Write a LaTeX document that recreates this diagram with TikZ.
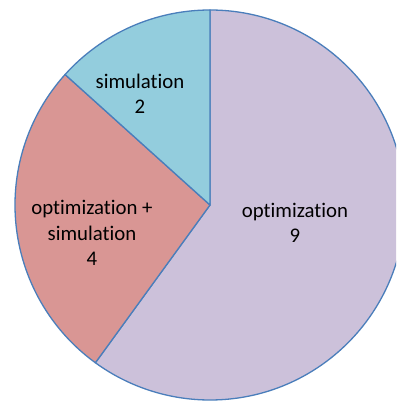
\documentclass[tikz,border=0pt]{standalone}
\usepackage{fontspec}
\setmainfont{Carlito}[Ligatures={NoCommon}]
\definecolor{optcol}{RGB}{204,193,218}
\definecolor{optsimcol}{RGB}{217,150,148}
\definecolor{simcol}{RGB}{147,205,221}
\definecolor{edgecol}{RGB}{74,126,187}
\tikzset{
  slice/.style={draw=edgecol, line width=1.3pt, line join=round},
  label/.style={align=center, font=\fontsize{20.8}{25.5}\selectfont, text=black, inner sep=0pt}
}
\begin{document}
\begin{tikzpicture}[x=1pt,y=1pt]
\useasboundingbox (0,0) rectangle (396,403);
\clip (0,0) rectangle (396,403);
\fill[white] (0,0) rectangle (396,403);
\coordinate (c) at (210,198);
\filldraw[slice, fill=optcol] (c) -- ++(90:195) arc[start angle=90, end angle=-126, radius=195] -- cycle;
\filldraw[slice, fill=optsimcol] (c) -- ++(-126:195) arc[start angle=-126, end angle=-222, radius=195] -- cycle;
\filldraw[slice, fill=simcol] (c) -- ++(138:195) arc[start angle=138, end angle=90, radius=195] -- cycle;
\node[label] (opt) at (295,180) {optimization\\9};
\node[label] (optsim) at (92,170) {optimization +\\simulation\\4};
\node[label] (sim) at (140,309) {simulation\\2};
\end{tikzpicture}
\end{document}
